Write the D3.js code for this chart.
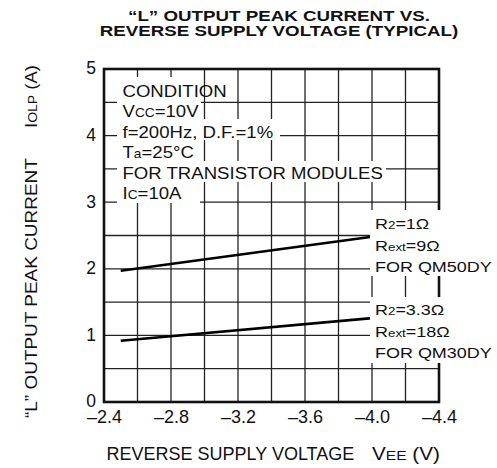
<!DOCTYPE html>
<html><head><meta charset="utf-8">
<script src="https://cdn.jsdelivr.net/npm/d3@7"></script>
<style>
html,body{margin:0;padding:0;background:#fff;}
text{font-family:"Liberation Sans",Arial,Helvetica,sans-serif;fill:#111;}
</style></head>
<body><svg id="c" width="497" height="468"></svg>
<script>
// ---- data ----
const xTickValues = [-2.4, -2.8, -3.2, -3.6, -4.0, -4.4];
const yTickValues = [0, 1, 2, 3, 4, 5];
const xGridValues = [-2.6, -2.8, -3.0, -3.2, -3.4, -3.6, -3.8, -4.0, -4.2];
const yGridValues = [0.5, 1, 1.5, 2, 2.5, 3, 3.5, 4, 4.5];
const qm50Voltage = [-2.5, -4.0];
const qm50Current = [1.97, 2.48];
const qm30Voltage = [-2.5, -4.0];
const qm30Current = [0.92, 1.26];
const titleLines = ["\u201CL\u201D OUTPUT PEAK CURRENT VS.", "REVERSE SUPPLY VOLTAGE (TYPICAL)"];
const conditionLines = [
  [["CONDITION"]],
  [["V"], ["CC", 1], ["=10V"]],
  [["f=200Hz, D.F.=1%"]],
  [["T"], ["a", 1], ["=25\u00B0C"]],
  [["FOR TRANSISTOR MODULES"]],
  [["I"], ["C", 1], ["=10A"]]
];
const qm50Label = [[["R"], ["2", 1], ["=1\u03A9"]], [["R"], ["ext", 1], ["=9\u03A9"]], [["FOR QM50DY"]]];
const qm30Label = [[["R"], ["2", 1], ["=3.3\u03A9"]], [["R"], ["ext", 1], ["=18\u03A9"]], [["FOR QM30DY"]]];

// ---- layout ----
const svg = d3.select("#c");
const L = 104, R = 439, T = 69, B = 402;
const x = d3.scaleLinear().domain([-2.4, -4.4]).range([L, R]);
const y = d3.scaleLinear().domain([0, 5]).range([B, T]);

function addRuns(textSel, runs, big, small) {
  runs.forEach(r => {
    textSel.append("tspan").text(r[0]).style("font-size", (r[1] ? small : big) + "px");
  });
}

// grid
svg.append("g").selectAll("line").data(xGridValues).join("line")
  .attr("x1", d => x(d)).attr("x2", d => x(d)).attr("y1", T).attr("y2", B)
  .attr("stroke", "#222").attr("stroke-width", 1.3);
svg.append("g").selectAll("line").data(yGridValues).join("line")
  .attr("x1", L).attr("x2", R).attr("y1", d => y(d)).attr("y2", d => y(d))
  .attr("stroke", "#222").attr("stroke-width", 1.3);

// curves
const line = d3.line().x(d => x(d[0])).y(d => y(d[1]));
[[qm50Voltage, qm50Current], [qm30Voltage, qm30Current]].forEach(([vx, vy]) => {
  svg.append("path").datum(vx.map((v, i) => [v, vy[i]])).attr("d", line)
    .attr("fill", "none").attr("stroke", "#000").attr("stroke-width", 2.6);
});

// frame
svg.append("rect").attr("x", L).attr("y", T).attr("width", R - L).attr("height", B - T)
  .attr("fill", "none").attr("stroke", "#111").attr("stroke-width", 2.6);

// condition block (white backgrounds per line)
const condRight = [200, 201, 280, 201, 386, 200];
conditionLines.forEach((runs, i) => {
  svg.append("rect").attr("x", 117).attr("y", 77 + 21 * i).attr("width", condRight[i] - 117).attr("height", 21).attr("fill", "#fff");
});
conditionLines.forEach((runs, i) => {
  const t = svg.append("text").attr("transform", `translate(122.5,${97 + 20.4 * i}) scale(1.14,1)`);
  addRuns(t, runs, 16.3, 12);
});

// right labels
[[qm50Label, 210, 229], [qm30Label, 297, 315]].forEach(([lines, top, base]) => {
  svg.append("rect").attr("x", 370).attr("y", top).attr("width", 127).attr("height", 66).attr("fill", "#fff");
  lines.forEach((runs, i) => {
    const t = svg.append("text").attr("transform", `translate(375,${base + 21.5 * i}) scale(1.16,1)`);
    addRuns(t, runs, 15.5, 11.5);
  });
});

// axes labels
const fmt = d => "\u2013" + Math.abs(d).toFixed(1);
const xa = svg.append("g").attr("transform", `translate(0,${B})`)
  .call(d3.axisBottom(x).tickValues(xTickValues).tickFormat(fmt).tickSize(0).tickPadding(8));
xa.select(".domain").remove();
xa.selectAll("text").style("font-size", "18px").attr("fill", "#111");
const ya = svg.append("g").attr("transform", `translate(${L},0)`)
  .call(d3.axisLeft(y).tickValues(yTickValues).tickFormat(d3.format("d")).tickSize(0).tickPadding(8));
ya.select(".domain").remove();
ya.selectAll("text").style("font-size", "17.5px").attr("fill", "#111").attr("dy", "0.28em");

// title
titleLines.forEach((s, i) => {
  svg.append("text").attr("transform", `translate(279,${20.5 + 15.5 * i}) scale(1.25,1)`)
    .attr("text-anchor", "middle").style("font-size", "15px").style("font-weight", "bold").text(s);
});

// x axis title
svg.append("text").attr("x", 106.5).attr("y", 460).style("font-size", "18px").attr("fill", "#333").text("REVERSE SUPPLY VOLTAGE");
addRuns(svg.append("text").attr("transform", "translate(372,460) scale(1.15,1)").attr("fill", "#333"), [["V"], ["EE", 1], [" (V)"]], 18, 13.5);

// y axis title
svg.append("text").attr("transform", "translate(36.5,418) rotate(-90) scale(1.15,1)")
  .style("font-size", "16.5px").attr("fill", "#333").text("\u201CL\u201D OUTPUT PEAK CURRENT");
addRuns(svg.append("text").attr("transform", "translate(36.5,128) rotate(-90) scale(1.12,1)").attr("fill", "#333"),
  [["I"], ["OLP", 1], [" (A)"]], 16.5, 12.5);
</script></body></html>
